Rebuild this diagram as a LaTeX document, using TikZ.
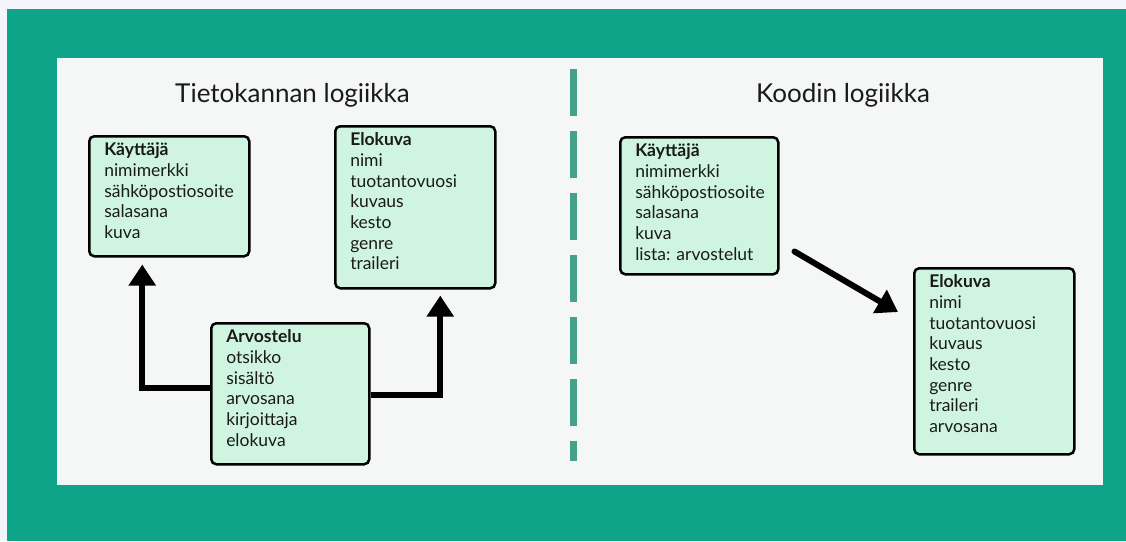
\documentclass[tikz,border=0pt]{standalone}
\usepackage{fontspec}
\setmainfont{Lato}
\usetikzlibrary{arrows.meta}
\definecolor{pagebg}{HTML}{F4F4FB}
\definecolor{frame}{HTML}{0DA48A}
\definecolor{panel}{HTML}{F5F7F6}
\definecolor{mint}{HTML}{CFF5E0}
\definecolor{divider}{HTML}{45A08C}
\definecolor{ink}{HTML}{1A1A1A}

% fixed-size, top-aligned text block of an entity box
\newcommand\entitytext[3]{\parbox[t][#2][t]{#1}{\fontsize{17.5}{20.7}\selectfont\rule{0pt}{14.5pt}#3}}

\tikzset{
  entity/.style={draw=black, line width=2.5pt, rounded corners=5pt, fill=mint,
    anchor=north west, inner xsep=15pt, inner ysep=5pt, text=ink},
  heading/.style={anchor=base, text=ink, font=\fontsize{26}{30}\selectfont},
  conn/.style={line width=6pt, -{Triangle[length=21pt,width=26pt]}},
}

\begin{document}
\begin{tikzpicture}[x=1pt,y=-1pt]
  % background, frame and panel
  \fill[pagebg] (0,0) rectangle (1126,541);
  \fill[frame] (7,9) rectangle (1126,541);
  \fill[panel] (57,58) rectangle (1103,485);
  \useasboundingbox (0,0) rectangle (1126,541);

  % dividing dashed line
  \draw[divider, line width=7pt, dash pattern=on 47pt off 15pt] (573,69) -- (573,461);

  % headings
  \node[heading] (h1) at (292.5,102) {Tietokannan logiikka};
  \node[heading] (h2) at (843,102) {Koodin logiikka};

  % database side
  \node[entity] (kay1) at (88,135) {\entitytext{130pt}{110pt}{\textbf{Käyttäjä}\\nimimerkki\\sähköpostiosoite\\salasana\\kuva}};
  \node[entity] (elo1) at (334,125) {\entitytext{130pt}{152pt}{\textbf{Elokuva}\\nimi\\tuotantovuosi\\kuvaus\\kesto\\genre\\traileri}};
  \node[entity] (arv) at (210,322) {\entitytext{128pt}{131pt}{\textbf{Arvostelu}\\otsikko\\sisältö\\arvosana\\kirjoittaja\\elokuva}};

  \draw[conn] ([yshift=5.5pt]arv.west) -| ([xshift=-27pt]kay1.south) [shorten >=7pt];
  \draw[conn] ([yshift=-1.5pt]arv.east) -| ([xshift=25pt]elo1.south) [shorten >=6pt];

  % code side
  \node[entity] (kay2) at (619,136) {\entitytext{128pt}{127pt}{\textbf{Käyttäjä}\\nimimerkki\\sähköpostiosoite\\salasana\\kuva\\lista: arvostelut}};
  \node[entity] (elo2) at (913,267) {\entitytext{130pt}{176pt}{\textbf{Elokuva}\\nimi\\tuotantovuosi\\kuvaus\\kesto\\genre\\traileri\\arvosana}};

  \draw[conn, line cap=round] ([xshift=15pt,yshift=24pt]kay2.south east) -- ([xshift=-15pt,yshift=-45pt]elo2.north west);
\end{tikzpicture}
\end{document}
